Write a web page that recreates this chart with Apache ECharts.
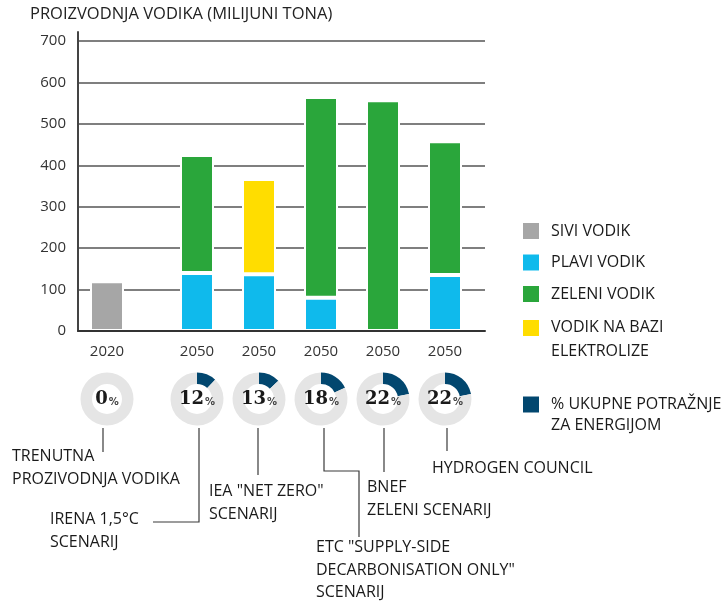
<!DOCTYPE html>
<html>
<head>
<meta charset="utf-8">
<title>Proizvodnja vodika</title>
<script src="https://cdn.jsdelivr.net/npm/echarts@6/dist/echarts.min.js"></script>
<style>
  html, body { margin: 0; padding: 0; background: #fff; }
  #chart { width: 726px; height: 603px; }
</style>
</head>
<body>
<div id="chart"></div>
<script>
// podaci (milijuni tona)
const scenarios = ['TRENUTNA', 'IRENA', 'IEA', 'ETC', 'BNEF', 'HYDROGEN COUNCIL']
const years = ['2020', '2050', '2050', '2050', '2050', '2050']
const sivi = [120, null, null, null, null, null]
const plavi = [null, 140, 137, 80, null, 135]
const zeleni = [null, 285, null, 485, 557, 323]
const elektroliza = [null, null, 230, null, null, null]
// udio u ukupnoj potraznji za energijom (%)
const udio = [0, 12, 13, 18, 22, 22]
const yTicks = [0, 100, 200, 300, 400, 500, 600, 700]

const SERIES = [
  { name: 'SIVI VODIK', data: sivi, color: '#a6a6a6' },
  { name: 'PLAVI VODIK', data: plavi, color: '#0fbaec' },
  { name: 'ZELENI VODIK', data: zeleni, color: '#2aa63b' },
  { name: 'VODIK NA BAZI ELEKTROLIZE', data: elektroliza, color: '#ffdd00' }
]
const SHARE_NAME = '% UKUPNE POTRAŽNJE ZA ENERGIJOM'
const NAVY = '#02476f'

// raspored
const LEFT = 78, TOP = 41, PLOT_W = 407, PLOT_H = 290
const BAND = 62
const G2020_LEFT = 76, G2050_LEFT = 166
const FONT = '"Open Sans", "Noto Sans", sans-serif'

const chart = echarts.init(document.getElementById('chart'), null, { renderer: 'canvas' })

const grids = [
  { left: LEFT, top: TOP, width: PLOT_W, height: PLOT_H },          // mreza
  { left: LEFT, top: TOP - 9, width: 1, height: PLOT_H + 9 },        // y os
  { left: G2020_LEFT, top: TOP, width: BAND, height: PLOT_H },       // 2020
  { left: G2050_LEFT, top: TOP, width: BAND * 5, height: PLOT_H }    // 2050
]

const xLabel = {
  fontSize: 15, color: '#333', fontFamily: FONT, margin: 13,
  formatter: (v) => years[scenarios.indexOf(v)]
}

const xAxes = [
  { gridIndex: 0, type: 'category', data: [''], z: 5,
    axisLine: { lineStyle: { color: '#333', width: 2 } },
    axisTick: { show: false }, axisLabel: { show: false } },
  { gridIndex: 1, type: 'category', data: [''], show: false },
  { gridIndex: 2, type: 'category', data: scenarios.slice(0, 1),
    axisLine: { show: false }, axisTick: { show: false }, axisLabel: xLabel },
  { gridIndex: 3, type: 'category', data: scenarios.slice(1),
    axisLine: { show: false }, axisTick: { show: false }, axisLabel: xLabel }
]

const yMax = yTicks[yTicks.length - 1]
const yAxes = [
  { gridIndex: 0, type: 'value', min: 0, max: yMax, interval: 100,
    axisLine: { show: false }, axisTick: { show: false },
    axisLabel: { fontSize: 15, color: '#333', fontFamily: FONT, margin: 12 },
    splitLine: { lineStyle: { color: '#555', width: 1.5 } } },
  { gridIndex: 1, type: 'value', min: 0, max: 1, z: 5,
    axisLine: { show: true, lineStyle: { color: '#444', width: 2 } },
    axisTick: { show: false }, axisLabel: { show: false }, splitLine: { show: false } },
  { gridIndex: 2, type: 'value', min: 0, max: yMax, show: false, splitLine: { show: false } },
  { gridIndex: 3, type: 'value', min: 0, max: yMax, show: false, splitLine: { show: false } }
]

const series = []
SERIES.forEach((s) => {
  // 2020 i 2050 stupci u dvije mreze
  series.push({
    name: s.name, type: 'bar', stack: 'a', xAxisIndex: 2, yAxisIndex: 2,
    barWidth: 34, data: s.data.slice(0, 1),
    itemStyle: { color: s.color, borderColor: '#fff', borderWidth: 2 }
  })
  series.push({
    name: s.name, type: 'bar', stack: 'b', xAxisIndex: 3, yAxisIndex: 3,
    barWidth: 34, data: s.data.slice(1),
    itemStyle: { color: s.color, borderColor: '#fff', borderWidth: 2 }
  })
})

// krugovi s udjelom
const pieCenters = scenarios.map((_, i) =>
  i === 0 ? G2020_LEFT + BAND / 2 : G2050_LEFT + BAND / 2 + BAND * (i - 1))
udio.forEach((u, i) => {
  series.push({
    type: 'pie', center: [pieCenters[i], 399], radius: [15, 26.5],
    startAngle: 90, silent: true, labelLine: { show: false },
    data: [
      { name: SHARE_NAME, value: u, itemStyle: { color: NAVY }, label: { show: false } },
      { name: 'ostalo', value: 100 - u, itemStyle: { color: '#e5e5e5' },
        label: { show: true, position: 'center', formatter: '{n|' + u + '}{p|%}' } }
    ],
    label: {
      rich: {
        n: { fontFamily: '"DejaVu Serif"', fontWeight: 'bold', fontSize: 18, color: '#1a1a1a', lineHeight: 20 },
        p: { fontFamily: '"DejaVu Sans"', fontWeight: 'bold', fontSize: 10, color: '#444', verticalAlign: 'bottom', padding: [0, 0, 2, 1] }
      }
    }
  })
})

const legendText = { fontSize: 16, color: '#1a1a1a', fontFamily: FONT, padding: [0, 0, 0, 7] }
const legends = [
  { data: SERIES.slice(0, 3).map((s) => s.name), orient: 'vertical', left: 523, top: 223,
    padding: 0, itemWidth: 16, itemHeight: 16, itemGap: 15.5, icon: 'rect',
    selectedMode: false, itemStyle: { borderWidth: 0 },
    textStyle: Object.assign({ lineHeight: 16 }, legendText) },
  { data: [SERIES[3].name], orient: 'vertical', left: 523, top: 319.5,
    padding: 0, itemWidth: 16, itemHeight: 16, icon: 'rect',
    selectedMode: false, itemStyle: { borderWidth: 0 },
    formatter: () => '{a|VODIK NA BAZI}\n{b|ELEKTROLIZE}',
    textStyle: Object.assign({ rich: { a: { lineHeight: 46 }, b: { lineHeight: 1 } } }, legendText) },
  { data: [SHARE_NAME], orient: 'vertical', left: 523, top: 396,
    padding: 0, itemWidth: 16, itemHeight: 16, icon: 'rect',
    selectedMode: false, itemStyle: { borderWidth: 0 },
    formatter: () => '{a|% UKUPNE POTRAŽNJE}\n{b|ZA ENERGIJOM}',
    textStyle: Object.assign({ rich: { a: { lineHeight: 42 }, b: { lineHeight: 1 } } }, legendText) }
]

// napomene ispod krugova
const notes = [
  { text: 'TRENUTNA\nPROZIVODNJA VODIKA', x: 12, y: 457, line: [[103, 428], [103, 452]] },
  { text: 'IRENA 1,5°C\nSCENARIJ', x: 50, y: 520, line: [[199, 428], [199, 522], [153, 522]] },
  { text: 'IEA "NET ZERO"\nSCENARIJ', x: 209, y: 492, line: [[258, 428], [258, 475]] },
  { text: 'ETC "SUPPLY-SIDE\nDECARBONISATION ONLY"\nSCENARIJ', x: 316, y: 548,
    line: [[324, 428], [324, 471], [359, 471], [359, 537]] },
  { text: 'BNEF\nZELENI SCENARIJ', x: 367, y: 488, line: [[384, 428], [384, 472]] },
  { text: 'HYDROGEN COUNCIL', x: 432, y: 469, line: [[447, 428], [447, 451]] }
]
const graphic = []
notes.forEach((n) => {
  graphic.push({ type: 'polyline', shape: { points: n.line }, silent: true,
    style: { stroke: '#3a3a3a', lineWidth: 1.2, fill: null } })
  graphic.push({ type: 'text', x: n.x, y: n.y - 11.5, silent: true,
    style: { text: n.text, font: '16px ' + FONT, fill: '#1a1a1a', lineHeight: 22.5, verticalAlign: 'top' } })
})

chart.setOption({
  animation: false,
  title: {
    text: 'PROIZVODNJA VODIKA (MILIJUNI TONA)', left: 30, top: 6, padding: 0,
    textStyle: { fontSize: 16.5, fontWeight: 'normal', color: '#222', fontFamily: FONT }
  },
  tooltip: { show: false },
  legend: legends,
  grid: grids,
  xAxis: xAxes,
  yAxis: yAxes,
  series: series,
  graphic: graphic
})
</script>
</body>
</html>
